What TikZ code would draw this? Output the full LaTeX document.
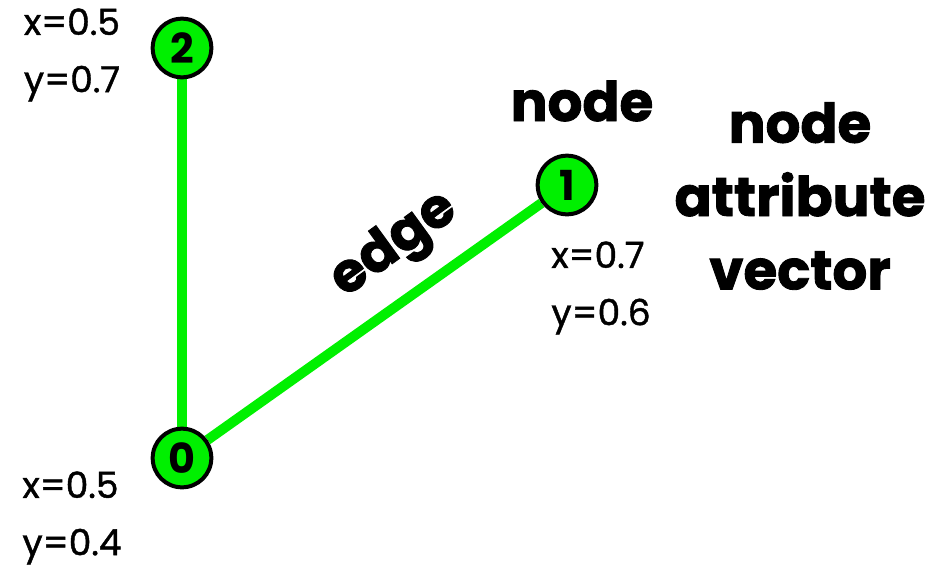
\documentclass[tikz,border=0pt]{standalone}
\usepackage{fontspec}
\setmainfont{Poppins}
\newfontfamily\attrfont[FakeBold=1.2]{Poppins}
\newfontfamily\heavyfont[FakeBold=1.6]{Poppins Bold}
\usetikzlibrary{backgrounds}
\definecolor{vgreen}{RGB}{0,240,0}
\tikzset{
	gnode/.style={circle, draw=black, line width=3pt, fill=vgreen, minimum size=44pt, inner sep=0pt, font=\bfseries\fontsize{31}{31}\selectfont},
	glink/.style={draw=vgreen, line width=7.5pt},
	attrtext/.style={font=\attrfont\fontsize{27}{43}\selectfont, align=left, inner sep=0pt},
	bigtext/.style={font=\heavyfont\fontsize{41}{55}\selectfont, align=center, inner sep=0pt}
}

\begin{document}
\begin{tikzpicture}[x=0.75pt, y=-0.75pt]
		%%%%% START %%%%%
		\useasboundingbox (0, 0) rectangle (941, 571);
		
		\node[gnode] (n2) at (182, 48) {2};
		\node[gnode] (n1) at (567, 185) {1};
		\node[gnode] (n0) at (182, 458) {0};
		
		\begin{scope}[on background layer]
			\draw[glink] (n0) -- (n2);
			\draw[glink] (n0) -- (n1);
		\end{scope}
		
		\node[attrtext] (a2) at (72, 55) {x=0.5\\y=0.7};
		\node[attrtext] (a1) at (601, 288) {x=0.7\\y=0.6};
		\node[attrtext] (a0) at (72, 518) {x=0.5\\y=0.4};
		
		\node[bigtext] (lnode) at (582, 101) {node};
		\node[bigtext] (lvec) at (800, 196) {node\\attribute\\vector};
		\node[bigtext, rotate=36] (ledge) at (395, 246) {edge};
		
		%%%%% END %%%%%
\end{tikzpicture}
\end{document}
